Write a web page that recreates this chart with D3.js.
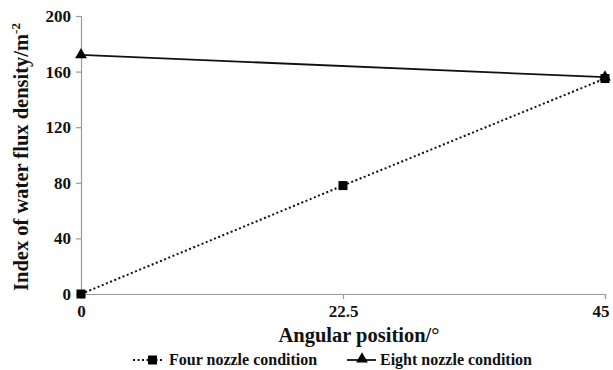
<!DOCTYPE html>
<html>
<head>
<meta charset="utf-8">
<script src="https://cdn.jsdelivr.net/npm/d3@7"></script>
<style>
  html, body { margin: 0; padding: 0; background: #fff; }
</style>
</head>
<body>
<svg id="chart" width="613" height="370"></svg>
<script>
// Angular positions (degrees) and water flux density index per nozzle setup
const angles = [0, 22.5, 45];
const fourNozzle = [0, 78, 155];
const eightAngles = [0, 45];
const eightValues = [172, 156];
const yTicks = [0, 40, 80, 120, 160, 200];
const xTicks = [0, 22.5, 45];

const FONT = "Liberation Serif";

const svg = d3.select("#chart");
const margin = { left: 81, right: 8, top: 16, bottom: 76 };
const W = 613, H = 370;

const x = d3.scaleLinear().domain([0, 45]).range([margin.left, W - margin.right]);
const y = d3.scaleLinear().domain([0, 200]).range([H - margin.bottom, margin.top]);

// Axes
const axisColor = "#9a9a9a";
const yAxis = svg.append("g")
  .attr("transform", `translate(${margin.left},0)`)
  .call(d3.axisLeft(y).tickValues(yTicks).tickSize(5).tickPadding(5).tickFormat(d3.format("d")));
const xAxis = svg.append("g")
  .attr("transform", `translate(0,${y(0)})`)
  .call(d3.axisBottom(x).tickValues(xTicks).tickSize(5).tickPadding(6).tickFormat(d => String(d)));

[yAxis, xAxis].forEach(g => {
  g.attr("font-family", FONT).attr("font-size", 17).attr("font-weight", "bold");
  g.select(".domain").attr("stroke", axisColor).attr("stroke-width", 1.2);
  g.selectAll(".tick line").attr("stroke", axisColor).attr("stroke-width", 1.2);
  g.selectAll(".tick text").attr("fill", "#111");
});
xAxis.selectAll(".tick text").attr("text-anchor", (d) => d === 45 ? "end" : "middle")
  .attr("dx", (d) => d === 45 ? 4 : 0);

// Series lines
const line = d3.line().x(d => x(d[0])).y(d => y(d[1]));

const fourData = angles.map((a, i) => [a, fourNozzle[i]]);
const eightData = eightAngles.map((a, i) => [a, eightValues[i]]);

svg.append("path")
  .datum(eightData)
  .attr("d", line)
  .attr("fill", "none")
  .attr("stroke", "#111")
  .attr("stroke-width", 1.8);

svg.append("path")
  .datum(fourData)
  .attr("d", line)
  .attr("fill", "none")
  .attr("stroke", "#111")
  .attr("stroke-width", 2)
  .attr("stroke-dasharray", "2,2.5");

// Markers
const tri = d3.symbol().type(d3.symbolTriangle).size(60);
svg.selectAll(".tri")
  .data(eightData)
  .join("path")
  .attr("class", "tri")
  .attr("d", tri)
  .attr("transform", d => `translate(${x(d[0])},${y(d[1])})`)
  .attr("fill", "#000");

const sq = 9;
svg.selectAll(".sq")
  .data(fourData)
  .join("rect")
  .attr("class", "sq")
  .attr("x", d => x(d[0]) - sq / 2)
  .attr("y", d => y(d[1]) - sq / 2)
  .attr("width", sq)
  .attr("height", sq)
  .attr("fill", "#000");

// Text helper
function label(sel, size) {
  return sel.attr("font-family", FONT).attr("font-weight", "bold").attr("font-size", size).attr("fill", "#111");
}

// Axis titles
label(svg.append("text"), 20.5)
  .attr("x", 359)
  .attr("y", 342)
  .attr("text-anchor", "middle")
  .text("Angular position/°");

const yTitle = label(svg.append("text"), 20.5)
  .attr("transform", `translate(28,157) rotate(-90)`)
  .attr("text-anchor", "middle");
yTitle.append("tspan").text("Index of water flux density/m");
yTitle.append("tspan").attr("font-size", 13).attr("dy", -8).text("-2");

// Legend
const legY = 360;
const leg = svg.append("g");
leg.append("line")
  .attr("x1", 133).attr("x2", 164).attr("y1", legY).attr("y2", legY)
  .attr("stroke", "#111").attr("stroke-width", 2).attr("stroke-dasharray", "2,2.5");
leg.append("rect").attr("x", 148).attr("y", legY - 4.5).attr("width", 9).attr("height", 9).attr("fill", "#000");
label(leg.append("text"), 16).attr("x", 169).attr("y", legY + 5).text("Four nozzle condition");

leg.append("line")
  .attr("x1", 347).attr("x2", 376).attr("y1", legY).attr("y2", legY)
  .attr("stroke", "#111").attr("stroke-width", 1.8);
leg.append("path").attr("d", tri).attr("transform", `translate(362,${legY - 1})`).attr("fill", "#000");
label(leg.append("text"), 16).attr("x", 380).attr("y", legY + 5).text("Eight nozzle condition");
</script>
</body>
</html>
